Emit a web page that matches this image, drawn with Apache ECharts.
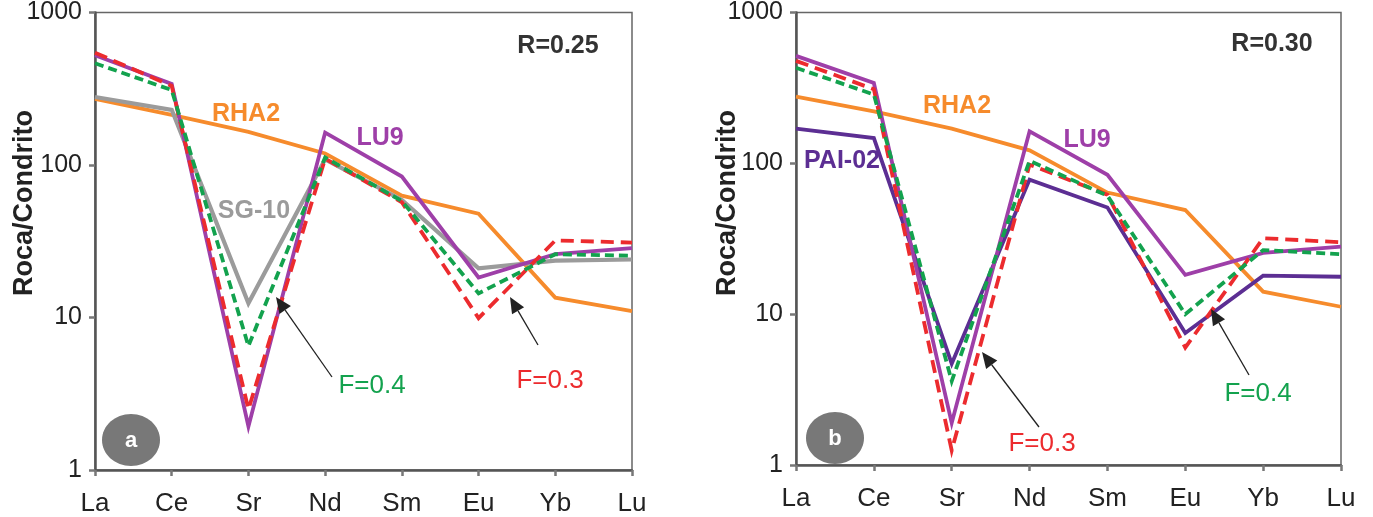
<!DOCTYPE html>
<html><head><meta charset="utf-8">
<script src="https://cdn.jsdelivr.net/npm/echarts@6/dist/echarts.min.js"></script>
<style>html,body{margin:0;padding:0;background:#fff}#c{width:1373px;height:517px}</style>
</head><body><div id="c"></div>
<script>
const categories = ['La','Ce','Sr','Nd','Sm','Eu','Yb','Lu'];
const yTicks = [1, 10, 100, 1000];

// Panel a (R=0.25)
const a_RHA2 = [271, 213, 165, 119, 63, 48, 13.5, 11];
const a_LU9  = [525, 340, 1.93, 163, 84, 18.3, 26, 28.5];
const a_F03  = [545, 330, 2.5, 110, 57, 9.9, 32, 31];
const a_F04  = [465, 310, 6.5, 112, 58, 14.4, 26, 25.4];
const a_SG10 = [279, 230, 12.4, 109, 59, 21, 23.6, 24];

// Panel b (R=0.30)
const b_RHA2  = [277, 221, 170, 122, 64, 49, 14.1, 11.2];
const b_LU9   = [516, 341, 1.9, 163, 84, 18.2, 25.5, 28];
const b_PAI02 = [170, 147, 4.7, 78, 51, 7.5, 18, 17.7];
const b_F03   = [478, 310, 1.25, 98, 62, 6.0, 31.9, 30];
const b_F04   = [430, 286, 3.6, 104, 61, 10, 26.6, 25];

const C = {orange:'#F68B2C', purple:'#9E3FA8', indigo:'#5C2E93', green:'#13A24E', red:'#EC2B2E', gray:'#9B9B9B'};
const FONT = 'Liberation Sans, Arial, sans-serif';

const chart = echarts.init(document.getElementById('c'), null, {renderer:'canvas'});

const grids = [
  {left:95, top:10, width:537, height:461},
  {left:796, top:8, width:545, height:457}
];

function xAxis(i){
  return {type:'category', gridIndex:i, data:categories, boundaryGap:false,
    axisLine:{lineStyle:{color:'#555', width:2.5}},
    axisTick:{show:true, inside:false, length:6, lineStyle:{color:'#777', width:2.5}, alignWithLabel:true},
    axisLabel:{color:'#222', fontSize:26, fontFamily:FONT, margin:21},
    splitLine:{show:false}};
}
function yAxis(i){
  return {type:'log', gridIndex:i, logBase:10, min:yTicks[0], max:yTicks[yTicks.length-1],
    axisLine:{show:true, lineStyle:{color:'#555', width:2.5}},
    axisTick:{show:true, length:6, lineStyle:{color:'#777', width:2.5}},
    axisLabel:{color:'#222', fontSize:25, fontFamily:FONT, margin:13, formatter:v=>String(Math.round(v))},
    minorTick:{show:false}, splitLine:{show:false}};
}
function s(i, data, color, type, width){
  return {type:'line', xAxisIndex:i, yAxisIndex:i, data:data, symbol:'none', silent:true,
    lineStyle:{color:color, width:width||3.8, type:type||'solid', cap:'butt', join:'miter'}, z: 2};
}

const series = [
  s(0, a_RHA2, C.orange),
  s(0, a_SG10, C.gray, 'solid', 4.2),
  s(0, a_LU9, C.purple),
  s(0, a_F03, C.red, [13,7]),
  s(0, a_F04, C.green, [9,5]),
  s(1, b_RHA2, C.orange),
  s(1, b_PAI02, C.indigo),
  s(1, b_LU9, C.purple),
  s(1, b_F03, C.red, [13,7]),
  s(1, b_F04, C.green, [9,5])
];

function txt(x, y, text, color, size, bold, extra){
  return Object.assign({type:'text', x:x, y:y, style:{text:text, fill:color, fontSize:size, fontWeight:bold?'bold':'normal', fontFamily:FONT, textAlign:'center', textVerticalAlign:'middle'}, z:10}, extra||{});
}
function arrow(x1,y1,x2,y2){
  const ang = Math.atan2(y2-y1, x2-x1), L=16, W=7;
  const bx = x2 - L*Math.cos(ang), by = y2 - L*Math.sin(ang);
  const px = -Math.sin(ang), py = Math.cos(ang);
  return [
    {type:'line', shape:{x1:x1,y1:y1,x2:bx,y2:by}, style:{stroke:'#222', lineWidth:1.3}, z:10},
    {type:'polygon', shape:{points:[[x2,y2],[bx+px*W,by+py*W],[bx-px*W,by-py*W]]}, style:{fill:'#222'}, z:10}
  ];
}
function badge(cx, cy, letter){
  return [
    {type:'ellipse', shape:{cx:cx, cy:cy, rx:29, ry:26}, style:{fill:'#787878'}, z:10},
    txt(cx, cy+1, letter, '#fff', 22, true)
  ];
}

const graphic = [
  txt(25, 203, 'Roca/Condrito', '#222', 27, true, {rotation:Math.PI/2}),
  txt(728, 203, 'Roca/Condrito', '#222', 27, true, {rotation:Math.PI/2}),
  txt(558, 46, 'R=0.25', '#333', 25, true),
  txt(1272, 44, 'R=0.30', '#333', 25, true),
  txt(246, 114, 'RHA2', C.orange, 25, true),
  txt(380, 138, 'LU9', C.purple, 25, true),
  txt(254, 211, 'SG-10', C.gray, 25, true),
  txt(372, 386, 'F=0.4', C.green, 26, false),
  txt(550, 381, 'F=0.3', C.red, 26, false),
  txt(957, 106, 'RHA2', C.orange, 25, true),
  txt(1087, 140, 'LU9', C.purple, 25, true),
  txt(842, 161, 'PAI-02', C.indigo, 25, true),
  txt(1042, 444, 'F=0.3', C.red, 26, false),
  txt(1258, 394, 'F=0.4', C.green, 26, false),
  ...arrow(332, 377, 276, 297),
  ...arrow(538, 345, 510, 297),
  ...arrow(1039, 427, 982, 352),
  ...arrow(1249, 375, 1211, 309),
  ...badge(131, 440, 'a'),
  ...badge(835, 438, 'b')
];

chart.setOption({
  animation:false,
  grid: grids.map(g=>Object.assign({show:true, borderColor:'#666', borderWidth:1.5, backgroundColor:'transparent'}, g)),
  xAxis:[xAxis(0), xAxis(1)],
  yAxis:[yAxis(0), yAxis(1)],
  series: series,
  graphic: graphic
});
</script></body></html>
